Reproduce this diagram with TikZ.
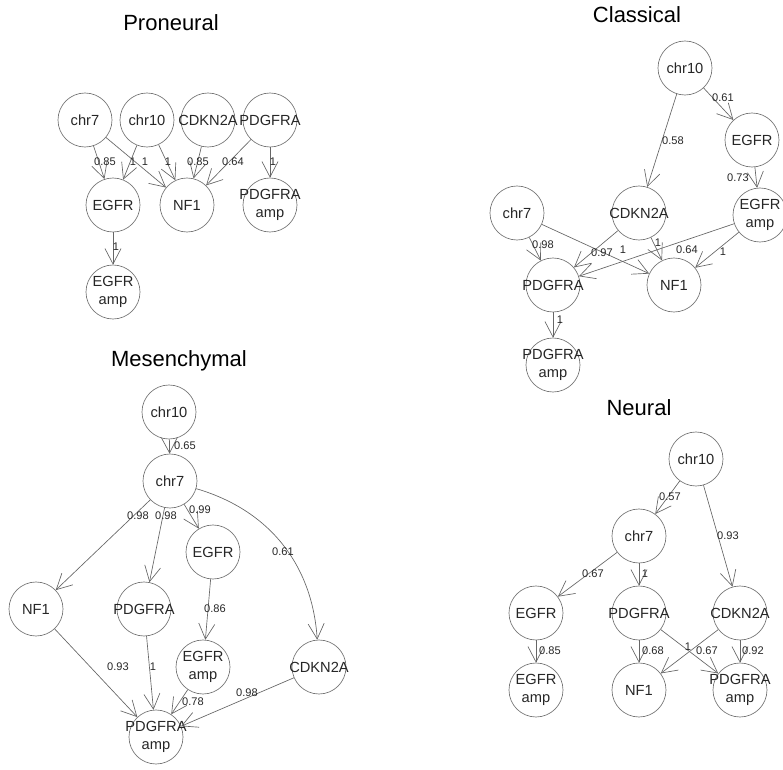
\documentclass[tikz,border=0pt]{standalone}
\usepackage{fontspec}
\setmainfont{Liberation Sans}
\usetikzlibrary{arrows.meta}

\begin{document}
\begin{tikzpicture}[x=0.75pt,y=-0.75pt,
				gene/.style={circle, draw=black!55, line width=0.5pt, minimum size=40.5pt, inner sep=0pt,
					label={[genetext]center:#1}},
				genetext/.style={inner sep=0pt, align=center, text=black!85, font=\fontsize{11}{13.5}\selectfont},
				wt/.style={inner sep=0pt, text=black!85, font=\fontsize{8.3}{9}\selectfont},
				arr/.style={draw=black!60, line width=0.5pt, -{Straight Barb[length=11.5pt,width=12pt]}},
				panel/.style={anchor=base, font=\fontsize{16.5}{18}\selectfont}]
		\useasboundingbox (0,0) rectangle (783,770);
		\node[panel] (pn) at (171,31) {Proneural};
		\node[gene={chr7}] (pnchr7) at (85,120) {};
		\node[gene={chr10}] (pnchr10) at (147,120) {};
		\node[gene={CDKN2A}] (pnCDKN2A) at (208,120) {};
		\node[gene={PDGFRA}] (pnPDGFRA) at (270,120) {};
		\node[gene={EGFR}] (pnEGFR) at (113,205) {};
		\node[gene={NF1}] (pnNF1) at (187,205) {};
		\node[gene={PDGFRA\\amp}] (pnPDGFRAamp) at (270,205) {};
		\node[gene={EGFR\\amp}] (pnEGFRamp) at (113,292) {};
		\draw[arr] (pnchr7) -- (pnEGFR);
		\draw[arr] (pnchr7) -- (pnNF1);
		\draw[arr] (pnchr10) -- (pnEGFR);
		\draw[arr] (pnchr10) -- (pnNF1);
		\draw[arr] (pnCDKN2A) -- (pnNF1);
		\draw[arr] (pnPDGFRA) -- (pnNF1);
		\draw[arr] (pnPDGFRA) -- (pnPDGFRAamp);
		\draw[arr] (pnEGFR) -- (pnEGFRamp);
		\node[wt] (pnw1) at (105,162) {0.85};
		\node[wt] (pnw2) at (133,162) {1};
		\node[wt] (pnw3) at (145,162) {1};
		\node[wt] (pnw4) at (168,162) {1};
		\node[wt] (pnw5) at (198,162) {0.85};
		\node[wt] (pnw6) at (233,162) {0.64};
		\node[wt] (pnw7) at (273,162) {1};
		\node[wt] (pnw8) at (116,247) {1};

		\node[panel] (cl) at (637,23) {Classical};
		\node[gene={chr10}] (clchr10) at (685,68) {};
		\node[gene={EGFR}] (clEGFR) at (752,140) {};
		\node[gene={chr7}] (clchr7) at (517,213) {};
		\node[gene={CDKN2A}] (clCDKN2A) at (639,213) {};
		\node[gene={EGFR\\amp}] (clEGFRamp) at (760,215) {};
		\node[gene={PDGFRA}] (clPDGFRA) at (553,285) {};
		\node[gene={NF1}] (clNF1) at (674,285) {};
		\node[gene={PDGFRA\\amp}] (clPDGFRAamp) at (553,365) {};
		\draw[arr] (clchr10) -- (clCDKN2A);
		\draw[arr] (clchr10) -- (clEGFR);
		\draw[arr] (clEGFR) -- (clEGFRamp);
		\draw[arr] (clchr7) -- (clPDGFRA);
		\draw[arr] (clchr7) -- (clNF1);
		\draw[arr] (clCDKN2A) -- (clPDGFRA);
		\draw[arr] (clCDKN2A) -- (clNF1);
		\draw[arr] (clEGFRamp) -- (clPDGFRA);
		\draw[arr] (clEGFRamp) -- (clNF1);
		\draw[arr] (clPDGFRA) -- (clPDGFRAamp);
		\node[wt] (clw1) at (723,98) {0.61};
		\node[wt] (clw2) at (673,141) {0.58};
		\node[wt] (clw3) at (738,178) {0.73};
		\node[wt] (clw4) at (543,245) {0.98};
		\node[wt] (clw5) at (602,253) {0.97};
		\node[wt] (clw6) at (623,250) {1};
		\node[wt] (clw7) at (658,243) {1};
		\node[wt] (clw8) at (687,250) {0.64};
		\node[wt] (clw9) at (723,252) {1};
		\node[wt] (clw10) at (560,320) {1};

		\node[panel] (me) at (179,367) {Mesenchymal};
		\node[gene={chr10}] (mechr10) at (169,412) {};
		\node[gene={chr7}] (mechr7) at (170,481) {};
		\node[gene={EGFR}] (meEGFR) at (213,552) {};
		\node[gene={NF1}] (meNF1) at (36,609) {};
		\node[gene={PDGFRA}] (mePDGFRA) at (144,609) {};
		\node[gene={EGFR\\amp}] (meEGFRamp) at (203,667) {};
		\node[gene={CDKN2A}] (meCDKN2A) at (319,667) {};
		\node[gene={PDGFRA\\amp}] (mePDGFRAamp) at (156,737) {};
		\draw[arr] (mechr10) -- (mechr7);
		\draw[arr] (mechr7) -- (meNF1);
		\draw[arr] (mechr7) -- (mePDGFRA);
		\draw[arr] (mechr7) -- (meEGFR);
		\draw[arr] (mechr7) to[bend left=35] (meCDKN2A);
		\draw[arr] (meEGFR) -- (meEGFRamp);
		\draw[arr] (meNF1) -- (mePDGFRAamp);
		\draw[arr] (mePDGFRA) -- (mePDGFRAamp);
		\draw[arr] (meEGFRamp) -- (mePDGFRAamp);
		\draw[arr] (meCDKN2A) -- (mePDGFRAamp);
		\node[wt] (mew1) at (185,446) {0.65};
		\node[wt] (mew2) at (138,516) {0.98};
		\node[wt] (mew3) at (166,516) {0.98};
		\node[wt] (mew4) at (200,510) {0.99};
		\node[wt] (mew5) at (283,552) {0.61};
		\node[wt] (mew6) at (215,609) {0.86};
		\node[wt] (mew7) at (118,667) {0.93};
		\node[wt] (mew8) at (153,667) {1};
		\node[wt] (mew9) at (193,702) {0.78};
		\node[wt] (mew10) at (247,693) {0.98};

		\node[panel] (ne) at (639,416) {Neural};
		\node[gene={chr10}] (nechr10) at (696,459) {};
		\node[gene={chr7}] (nechr7) at (639,536) {};
		\node[gene={EGFR}] (neEGFR) at (536,613) {};
		\node[gene={PDGFRA}] (nePDGFRA) at (639,613) {};
		\node[gene={CDKN2A}] (neCDKN2A) at (740,613) {};
		\node[gene={EGFR\\amp}] (neEGFRamp) at (536,690) {};
		\node[gene={NF1}] (neNF1) at (639,690) {};
		\node[gene={PDGFRA\\amp}] (nePDGFRAamp) at (740,690) {};
		\draw[arr] (nechr10) -- (nechr7);
		\draw[arr] (nechr10) -- (neCDKN2A);
		\draw[arr] (nechr7) -- (neEGFR);
		\draw[arr] (nechr7) -- (nePDGFRA);
		\draw[arr] (neEGFR) -- (neEGFRamp);
		\draw[arr] (nePDGFRA) -- (neNF1);
		\draw[arr] (nePDGFRA) -- (nePDGFRAamp);
		\draw[arr] (neCDKN2A) -- (neNF1);
		\draw[arr] (neCDKN2A) -- (nePDGFRAamp);
		\node[wt] (new1) at (670,497) {0.57};
		\node[wt] (new2) at (728,536) {0.93};
		\node[wt] (new3) at (593,574) {0.67};
		\node[wt] (new4) at (645,574) {1};
		\node[wt] (new5) at (550,651) {0.85};
		\node[wt] (new6) at (653,651) {0.68};
		\node[wt] (new7) at (688,647) {1};
		\node[wt] (new8) at (707,651) {0.67};
		\node[wt] (new9) at (753,651) {0.92};
		\end{tikzpicture}
\end{document}
